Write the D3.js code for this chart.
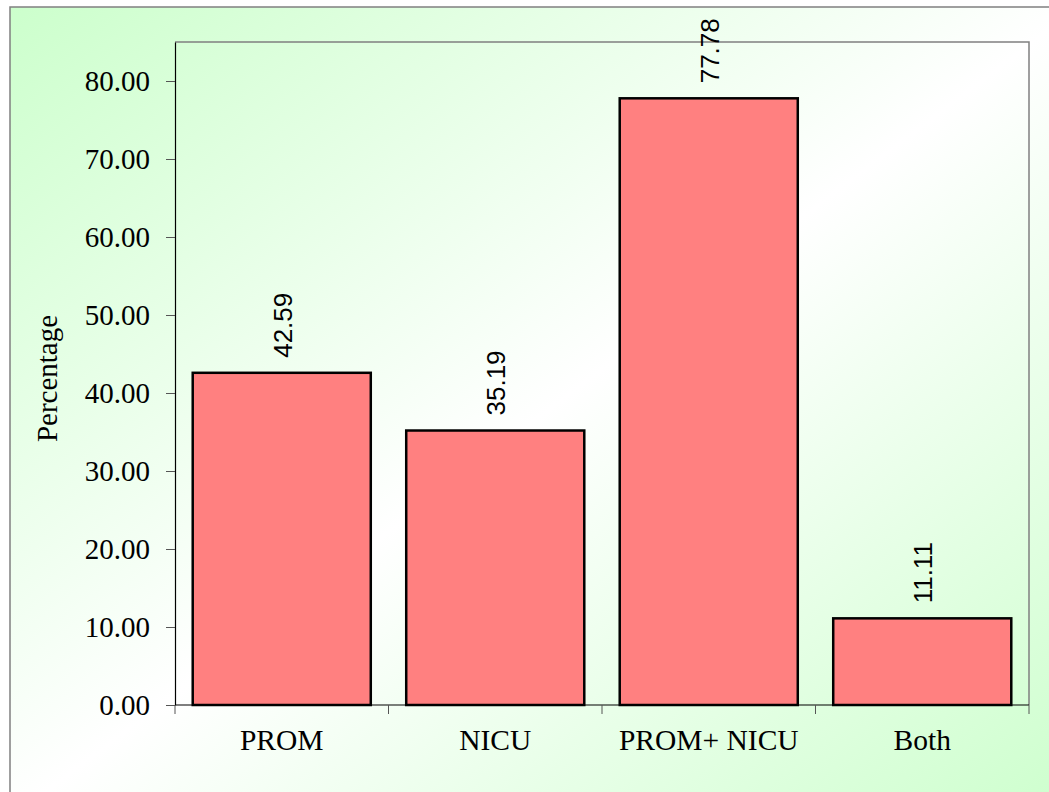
<!DOCTYPE html>
<html>
<head>
<meta charset="utf-8">
<script src="https://cdn.jsdelivr.net/npm/d3@7"></script>
<style>
  html, body { margin: 0; padding: 0; background: #ffffff; }
  svg { display: block; }
</style>
</head>
<body>
<svg id="chart" width="1049" height="792"></svg>
<script>
// Share of cases by group
const categories = ["PROM", "NICU", "PROM+ NICU", "Both"];
const values = [42.59, 35.19, 77.78, 11.11];
const yTicks = [0, 10, 20, 30, 40, 50, 60, 70, 80];
const yTitle = "Percentage";

const W = 1049, H = 792;
const plot = { left: 175, top: 42, right: 1029, bottom: 705 };
const serif = "'Liberation Serif', 'Times New Roman', serif";

const svg = d3.select("#chart");

// Diagonal green-white-green background
const defs = svg.append("defs");
const grad = defs.append("linearGradient")
  .attr("id", "bg")
  .attr("x1", 0).attr("y1", 0).attr("x2", 1).attr("y2", 1);
grad.append("stop").attr("offset", "0%").attr("stop-color", "#ccffcc");
grad.append("stop").attr("offset", "50%").attr("stop-color", "#ffffff");
grad.append("stop").attr("offset", "100%").attr("stop-color", "#ccffcc");

svg.append("rect")
  .attr("x", 10).attr("y", 7)
  .attr("width", W + 20).attr("height", H + 20)
  .attr("fill", "url(#bg)")
  .attr("stroke", "#808080")
  .attr("stroke-width", 1.5);

const x = d3.scaleBand()
  .domain(categories)
  .range([plot.left, plot.right])
  .paddingInner(0.166)
  .paddingOuter(0.083);

const bandX = d3.scaleBand()
  .domain(categories)
  .range([plot.left, plot.right]);

const y = d3.scaleLinear()
  .domain([0, 85])
  .range([plot.bottom, plot.top]);

// Plot frame: top and right edges in grey
svg.append("path")
  .attr("d", `M${plot.left},${plot.top}H${plot.right}V${plot.bottom}`)
  .attr("fill", "none")
  .attr("stroke", "#808080")
  .attr("stroke-width", 1.5);

// Y axis
const yAxis = d3.axisLeft(y)
  .tickValues(yTicks)
  .tickSizeInner(9)
  .tickSizeOuter(0)
  .tickPadding(16)
  .tickFormat(d3.format(".2f"));
const gy = svg.append("g")
  .attr("transform", `translate(${plot.left},0)`)
  .call(yAxis);
gy.select(".domain").attr("stroke", "#000").attr("stroke-width", 1.2);
gy.selectAll(".tick line").attr("stroke", "#555");
gy.selectAll(".tick text")
  .attr("font-family", serif)
  .attr("font-size", 29)
  .attr("fill", "#000");

// X axis with ticks on band boundaries
const gx = svg.append("g")
  .attr("transform", `translate(0,${plot.bottom})`);
gx.append("line")
  .attr("x1", plot.left).attr("x2", plot.right)
  .attr("stroke", "#000").attr("stroke-width", 1.2);
const bounds = categories.map(c => bandX(c)).concat([bandX(categories[categories.length - 1]) + bandX.bandwidth()]);
gx.selectAll(".xt").data(bounds).join("line")
  .attr("class", "xt")
  .attr("x1", d => d).attr("x2", d => d)
  .attr("y1", 0).attr("y2", 9)
  .attr("stroke", "#555");
gx.selectAll(".xl").data(categories).join("text")
  .attr("class", "xl")
  .attr("x", d => bandX(d) + bandX.bandwidth() / 2)
  .attr("y", 45)
  .attr("text-anchor", "middle")
  .attr("font-family", serif)
  .attr("font-size", 29.5)
  .attr("fill", "#000")
  .text(d => d);

// Bars
svg.append("g").selectAll("rect").data(categories).join("rect")
  .attr("x", d => x(d))
  .attr("y", (d, i) => y(values[i]))
  .attr("width", x.bandwidth())
  .attr("height", (d, i) => y(0) - y(values[i]))
  .attr("fill", "#ff8080")
  .attr("stroke", "#000")
  .attr("stroke-width", 2.5);

// Value labels, rotated
svg.append("g").selectAll("text").data(categories).join("text")
  .attr("transform", (d, i) => `translate(${x(d) + x.bandwidth() / 2 + 1},${y(values[i]) - 15}) rotate(-90)`)
  .attr("dy", "0.35em")
  .attr("text-anchor", "start")
  .attr("font-family", "'Liberation Sans', Arial, sans-serif")
  .attr("font-size", 26)
  .attr("fill", "#000")
  .text((d, i) => values[i].toFixed(2));

// Y axis title
svg.append("text")
  .attr("transform", `translate(57,${(plot.top + plot.bottom) / 2 + 5}) rotate(-90)`)
  .attr("text-anchor", "middle")
  .attr("font-family", serif)
  .attr("font-size", 29)
  .attr("fill", "#000")
  .text(yTitle);
</script>
</body>
</html>
